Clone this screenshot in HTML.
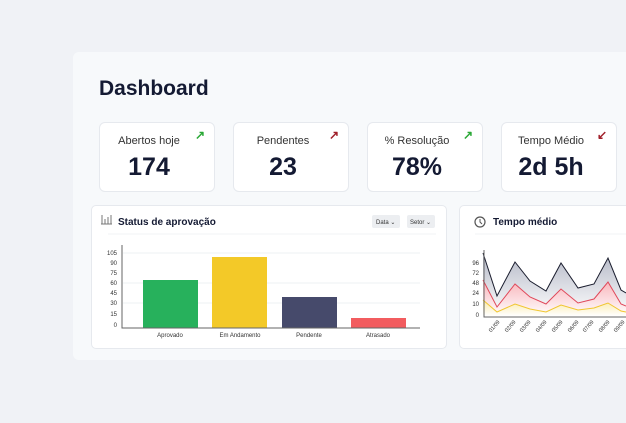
<!DOCTYPE html><html><head><style>
body{margin:0;width:626px;height:423px;background:#f0f2f6;font-family:"Liberation Sans",sans-serif;overflow:hidden;position:relative}
.panel{position:absolute;left:73px;top:52px;width:600px;height:308px;background:#f7f9fb;border-radius:6px}
h1{position:absolute;left:99px;top:77px;margin:0;font-size:21px;color:#141a33;font-weight:bold}
.card{position:absolute;top:122px;width:116px;height:70px;background:#fff;border:1px solid #e6e9ee;border-radius:6px;text-align:center;box-sizing:border-box;padding-right:16px}
.card .l{font-size:11px;color:#333;margin-top:12px}
.card .v{font-size:25px;font-weight:bold;color:#141a33;margin-top:6px}
.card .a{position:absolute;right:9px;top:5px;font-size:12px;font-weight:bold}
.box{position:absolute;top:205px;height:144px;background:#fff;border:1px solid #e6e9ee;border-radius:5px;box-sizing:border-box}
</style></head><body>
<div class="panel"></div>
<h1>Dashboard</h1>
<div class="card" style="left:99px"><div class="l">Abertos hoje</div><div class="v">174</div><span class="a" style="color:#2aa836">↗</span></div>
<div class="card" style="left:233px"><div class="l">Pendentes</div><div class="v">23</div><span class="a" style="color:#a0202a">↗</span></div>
<div class="card" style="left:367px"><div class="l">% Resolução</div><div class="v">78%</div><span class="a" style="color:#2aa836">↗</span></div>
<div class="card" style="left:501px"><div class="l">Tempo Médio</div><div class="v">2d 5h</div><span class="a" style="color:#a0202a">↙</span></div>
<div class="box" style="left:91px;width:356px"></div>
<div class="box" style="left:459px;width:200px"></div>
<svg width="626" height="423" style="position:absolute;left:0;top:0" font-family="Liberation Sans,sans-serif">
<g fill="none" stroke="#777" stroke-width="1"><path d="M102 215v9M105 219v5M108 217v7M111 215v9M101 224h11"/></g>
<text x="118" y="225" font-size="10" font-weight="bold" fill="#141a33">Status de aprovação</text>
<rect x="372" y="215" width="28" height="13" rx="2" fill="#eceef1"/><text x="376" y="224" font-size="6" fill="#333">Data ⌄</text>
<rect x="407" y="215" width="28" height="13" rx="2" fill="#eceef1"/><text x="410" y="224" font-size="6" fill="#333">Setor ⌄</text>
<line x1="108" y1="234" x2="436" y2="234" stroke="#f2f3f5"/>
<g stroke="#eef0f3"><line x1="123" y1="253" x2="420" y2="253"/><line x1="123" y1="283" x2="420" y2="283"/><line x1="123" y1="303" x2="420" y2="303"/></g>
<g font-size="6" fill="#333" text-anchor="end"><text x="117" y="255">105</text><text x="117" y="265">90</text><text x="117" y="275">75</text><text x="117" y="285">60</text><text x="117" y="295">45</text><text x="117" y="305">30</text><text x="117" y="316">15</text><text x="117" y="327">0</text></g>
<rect x="143" y="280" width="55" height="48" fill="#27b15c"/>
<rect x="212" y="257" width="55" height="71" fill="#f3c928"/>
<rect x="282" y="297" width="55" height="31" fill="#464a6b"/>
<rect x="351" y="318" width="55" height="10" fill="#f25c5f"/>
<path d="M122 245V328H420" stroke="#666" fill="none"/>
<g font-size="6" fill="#333" text-anchor="middle"><text x="170" y="337">Aprovado</text><text x="240" y="337">Em Andamento</text><text x="309" y="337">Pendente</text><text x="378" y="337">Atrasado</text></g>
<circle cx="480" cy="222" r="5" fill="none" stroke="#555" stroke-width="1.2"/><path d="M480 219v3l2 2" stroke="#555" fill="none"/>
<text x="493" y="225" font-size="10" font-weight="bold" fill="#141a33">Tempo médio</text>
<line x1="475" y1="234" x2="626" y2="234" stroke="#f2f3f5"/>
<defs><linearGradient id="g1" x1="0" y1="0" x2="0" y2="1"><stop offset="0" stop-color="#b4b8c6"/><stop offset="1" stop-color="#fff"/></linearGradient>
<linearGradient id="g2" x1="0" y1="0" x2="0" y2="1"><stop offset="0" stop-color="#f8b4ba"/><stop offset="1" stop-color="#fff"/></linearGradient>
<linearGradient id="g3" x1="0" y1="0" x2="0" y2="1"><stop offset="0" stop-color="#fae9a8"/><stop offset="1" stop-color="#fff"/></linearGradient></defs>
<path d="M483 253L497 296L515 262L530 281L546 291L561 263L578 288L594 284L608 258L621 290L626 293V316H483Z" fill="url(#g1)"/>
<path d="M483 280L497 307L515 284L530 297L546 304L561 289L578 303L594 299L608 282L621 304L626 306V316H483Z" fill="url(#g2)"/>
<path d="M483 300L497 312L515 304L530 309L546 312L561 305L578 310L594 308L608 303L621 311L626 312V316H483Z" fill="url(#g3)"/>
<path d="M483 253L497 296L515 262L530 281L546 291L561 263L578 288L594 284L608 258L621 290L626 293" fill="none" stroke="#1a1d2e"/>
<path d="M483 280L497 307L515 284L530 297L546 304L561 289L578 303L594 299L608 282L621 304L626 306" fill="none" stroke="#e0485a"/>
<path d="M483 300L497 312L515 304L530 309L546 312L561 305L578 310L594 308L608 303L621 311L626 312" fill="none" stroke="#f0c630"/>
<path d="M484 250V317H626" stroke="#666" fill="none"/>
<g font-size="6" fill="#333" text-anchor="end"><text x="479" y="265">96</text><text x="479" y="275">72</text><text x="479" y="285">48</text><text x="479" y="295">24</text><text x="479" y="306">10</text><text x="479" y="317">0</text></g>
<g font-size="5.5" fill="#333" text-anchor="end">
<text transform="translate(500,322) rotate(-50)">01/09</text><text transform="translate(516,322) rotate(-50)">02/09</text><text transform="translate(531,322) rotate(-50)">03/09</text><text transform="translate(547,322) rotate(-50)">04/09</text><text transform="translate(563,322) rotate(-50)">05/09</text><text transform="translate(579,322) rotate(-50)">06/09</text><text transform="translate(594,322) rotate(-50)">07/09</text><text transform="translate(610,322) rotate(-50)">08/09</text><text transform="translate(625,322) rotate(-50)">09/09</text></g>
</svg>
</body></html>
